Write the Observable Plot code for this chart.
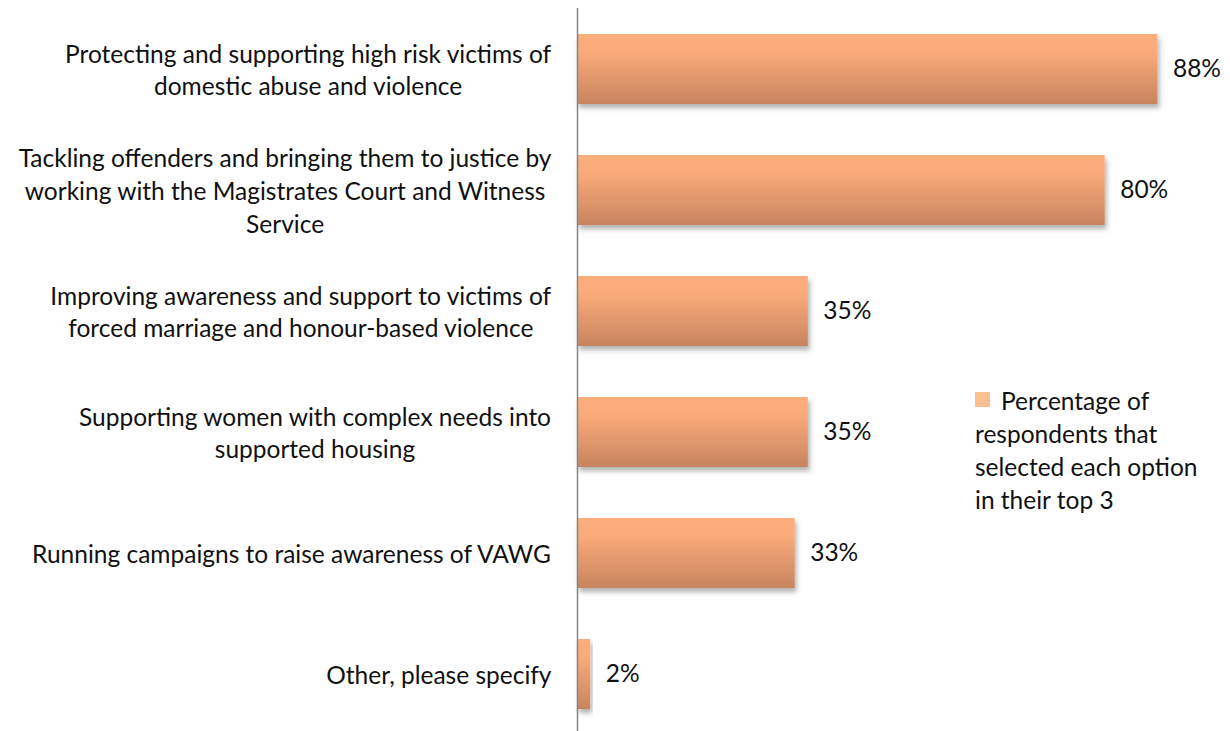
<!DOCTYPE html>
<html><head><meta charset="utf-8">
<script src="https://cdn.jsdelivr.net/npm/d3@7"></script>
<script src="https://cdn.jsdelivr.net/npm/@observablehq/plot@0.6"></script>
<style>
body{margin:0;background:#fff;font-family:Lato,"Open Sans",sans-serif;}
#wrap{position:relative;width:1230px;height:731px;}
#legend{position:absolute;left:975px;top:384px;font-size:24.5px;line-height:33px;color:#111;}
#legend .sw{display:inline-block;width:15px;height:15px;background:#FABF8F;margin-right:11px;vertical-align:3px;}
</style></head>
<body><div id="wrap"></div>
<script>
const categories = [
  "Protecting and supporting high risk victims of\ndomestic abuse and violence",
  "Tackling offenders and bringing them to justice by\nworking with the Magistrates Court and Witness\nService",
  "Improving awareness and support to victims of\nforced marriage and honour-based violence",
  "Supporting women with complex needs into\nsupported housing",
  "Running campaigns to raise awareness of VAWG",
  "Other, please specify"
];
const values = [88, 80, 35, 35, 33, 2];
const valueLabels = ["88%", "80%", "35%", "35%", "33%", "2%"];
const legendLines = ["Percentage of", "respondents that", "selected each option", "in their top 3"];

const FONT = 24.5;
const data = categories.map((c, i) => ({category: c, value: values[i], label: valueLabels[i]}));

const ctx = document.createElement("canvas").getContext("2d");
ctx.font = FONT + "px Lato";
const blockWidth = c => Math.max(...c.split("\n").map(l => ctx.measureText(l).width));

const defs = () => {
  const d = d3.create("svg:defs");
  const g = d.append("linearGradient").attr("id", "barGrad").attr("x1", 0).attr("y1", 0).attr("x2", 0).attr("y2", 1);
  g.append("stop").attr("offset", "0%").attr("stop-color", "#FEAE7C");
  g.append("stop").attr("offset", "25%").attr("stop-color", "#FAAB7A");
  g.append("stop").attr("offset", "100%").attr("stop-color", "#C8845F");
  const f = d.append("filter").attr("id", "shadow").attr("x", "-10%").attr("y", "-20%").attr("width", "130%").attr("height", "160%");
  f.append("feDropShadow").attr("dx", 2).attr("dy", 4).attr("stdDeviation", 2.5).attr("flood-color", "#000").attr("flood-opacity", 0.3);
  return d.node();
};

const labelMarks = categories.map(c => Plot.text([c], {
  y: d => d, text: d => d, frameAnchor: "left", textAnchor: "middle",
  dx: -(26 + blockWidth(c) / 2), dy: -1, fontSize: FONT, lineHeight: 1.33, fill: "#111"
}));

const chart = Plot.plot({
  width: 1230, height: 731,
  marginLeft: 577, marginRight: 0, marginTop: 21, marginBottom: 9,
  style: {fontFamily: "Lato, 'Open Sans', sans-serif", fontSize: FONT + "px", background: "#fff"},
  x: {axis: null, domain: [0, 99]},
  y: {axis: null, domain: categories, paddingInner: 0.4235, paddingOuter: 0.1},
  marks: [
    defs,
    Plot.barX(data, {y: "category", x: "value", fill: "url(#barGrad)"}),
    Plot.text(data, {y: "category", x: "value", text: "label", textAnchor: "start", dx: 15, fontSize: FONT, fill: "#111"}),
    Plot.ruleX([0], {stroke: "#868686", strokeWidth: 1.5, insetTop: -13, insetBottom: -9}),
    ...labelMarks
  ]
});
d3.select(chart).selectAll("g[aria-label='bar'] rect").attr("filter", "url(#shadow)");
const wrap = document.getElementById("wrap");
wrap.appendChild(chart);

const legend = document.createElement("div");
legend.id = "legend";
legend.innerHTML = legendLines.map((l, i) => (i === 0 ? '<span class="sw"></span>' : '') + l).join("<br>");
wrap.appendChild(legend);
</script>
</body></html>
